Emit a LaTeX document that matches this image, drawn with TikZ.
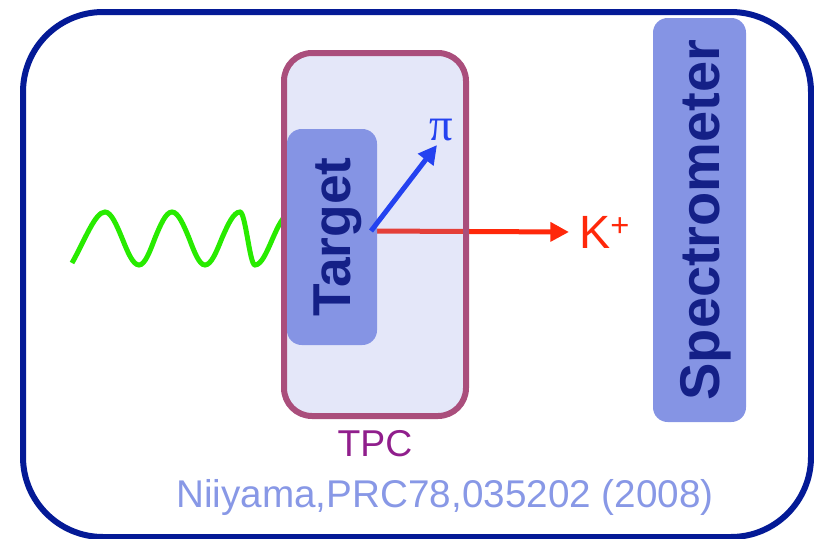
\documentclass[tikz,border=0pt]{standalone}
\usepackage{fontspec}
\setmainfont{Liberation Sans}
\newfontfamily\greekfont{Liberation Serif}
\usetikzlibrary{positioning,arrows.meta}

\newlength\pxl
\setlength\pxl{0.75pt}

\definecolor{framenavy}{RGB}{4,26,150}
\definecolor{detblue}{RGB}{133,148,228}
\definecolor{textnavy}{RGB}{20,32,135}
\definecolor{tpcmauve}{RGB}{170,78,124}
\definecolor{tpcpurple}{RGB}{144,30,140}
\definecolor{citeblue}{RGB}{136,152,230}
\definecolor{kred}{RGB}{255,40,10}
\definecolor{piblue}{RGB}{36,66,240}
\definecolor{wavegreen}{RGB}{40,235,0}

\begin{document}
\begin{tikzpicture}[x=0.75pt,y=-0.75pt,
    detector/.style={fill=detblue, rounded corners=11pt, text=textnavy,
      font=\bfseries\fontsize{40}{40}\selectfont, rotate=90, text depth=0pt, inner sep=0pt},
    track/.style={line width=5\pxl, -{Triangle[length=14pt,width=14pt]}},
    wave/.style={draw=wavegreen, line width=5\pxl}]
                \useasboundingbox (0,0) rectangle (814,539);

                % Frame
                \node[draw=framenavy, line width=6\pxl, rounded corners=60pt,
                  minimum width=788\pxl, minimum height=525\pxl] (frame) at (417,274.5) {};

                % Photon
                \draw[wave] (72,263) .. controls (85,240) and (95,212) .. (105,212)
                  cos (122,238) sin (139,265) cos (155,238) sin (172,212)
                  cos (189,238) sin (205,265) cos (222,238) sin (240,212)
                  cos (247.5,238) sin (255,265) cos (272,240) sin (290,214);

                % Kaon track
                \coordinate (vtx) at (371,231);
                \coordinate (kaontip) at (569,232);
                \draw[track, kred] (vtx) -- (kaontip);

                % Detectors
                \node[draw=tpcmauve, line width=6\pxl, fill=detblue, fill opacity=0.22,
                  rounded corners=21pt, minimum width=182\pxl, minimum height=363\pxl] (tpc) at (375,234.5) {};
                \node[detector, minimum width=216\pxl, minimum height=90\pxl] (target) at (332,237) {Target};
                \node[detector, font=\bfseries\fontsize{42}{42}\selectfont,
                  minimum width=404\pxl, minimum height=93\pxl] (spectro) at (699.5,220) {Spectrometer};

                % Pion track
                \coordinate (pitip) at (437,145);
                \draw[track, piblue] (vtx) -- (pitip);

                % Labels
                \node[text=piblue, font=\greekfont\fontsize{35}{35}\selectfont, inner sep=0pt] (pion) at (441,130) {π};
                \node[text=kred, font=\fontsize{35}{35}\selectfont, inner sep=0pt, right=10\pxl of kaontip] (kaon) {K\textsuperscript{+}};
                \node[text=tpcpurple, font=\fontsize{28}{28}\selectfont, inner sep=0pt, below=11\pxl of tpc] (tpclabel) {TPC};
                \node[text=citeblue, font=\fontsize{29}{30}\selectfont, inner sep=0pt] (cite) at (445,497) {Niiyama,PRC78,035202 (2008)};
            \end{tikzpicture}
\end{document}
